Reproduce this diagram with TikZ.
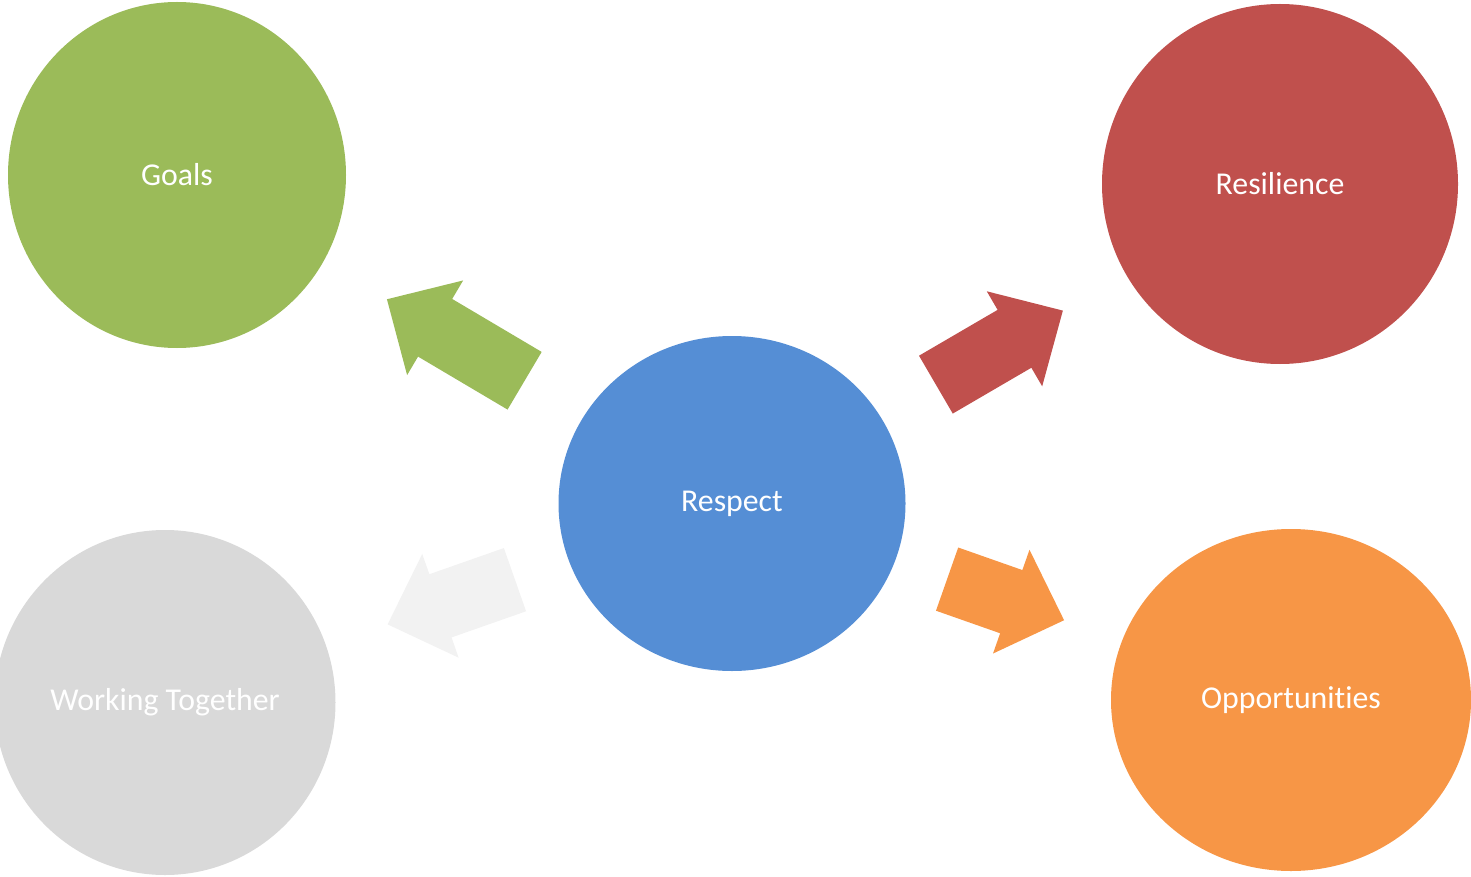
\documentclass[tikz,border=0pt]{standalone}
\usepackage{fontspec}
\setmainfont{Carlito}[Ligatures=NoCommon]
\usepackage{tikz}
\usetikzlibrary{shapes.geometric}
\usetikzlibrary{calc}

\definecolor{goalsgreen}{HTML}{9BBB59}
\definecolor{resired}{HTML}{C0504D}
\definecolor{respblue}{HTML}{558ED5}
\definecolor{worktgray}{HTML}{D9D9D9}
\definecolor{arrowgray}{HTML}{F2F2F2}
\definecolor{opporange}{HTML}{F79646}

\begin{document}
\begin{tikzpicture}[x=1pt,y=-1pt,
   bubble/.style={
      ellipse,
      draw=none,
      inner sep = 0pt,
      text = white,
      font = \fontsize{31.8}{36}\selectfont
   }]
   \useasboundingbox (0,0) rectangle (1471,877);

   \node[bubble, fill=respblue, minimum width=347pt, minimum height=335pt] (respect) at (732,503.5) {Respect};
   \node[bubble, fill=goalsgreen, minimum width=338pt, minimum height=346pt] (goals) at (177,175) {Goals};
   \node[bubble, fill=resired, minimum width=356pt, minimum height=360pt] (resilience) at (1280,184) {Resilience};
   \node[bubble, fill=worktgray, minimum width=341pt, minimum height=345pt] (working) at (165,702.5) {Working Together};
   \node[bubble, fill=opporange, minimum width=360pt, minimum height=342pt] (opportunities) at (1291,700) {Opportunities};

   \foreach \target/\from/\to/\col in {goals/241/401/goalsgreen,
      resilience/236/383/resired,
      working/230/365/arrowgray,
      opportunities/228/352/opporange}
   {
      \coordinate (tail) at ($(respect)!\from pt!(\target)$);
      \coordinate (tip) at ($(respect)!\to pt!(\target)$);
      \coordinate (base) at ($(tip)!56pt!(tail)$);
      \fill[\col] ($(tail)!33.5pt!90:(tip)$) -- ($(base)!33.5pt!-90:(tail)$)
         -- ($(base)!55pt!-90:(tail)$) -- (tip) -- ($(base)!55pt!90:(tail)$)
         -- ($(base)!33.5pt!90:(tail)$) -- ($(tail)!33.5pt!-90:(tip)$) -- cycle;
   }

\end{tikzpicture}
\end{document}
